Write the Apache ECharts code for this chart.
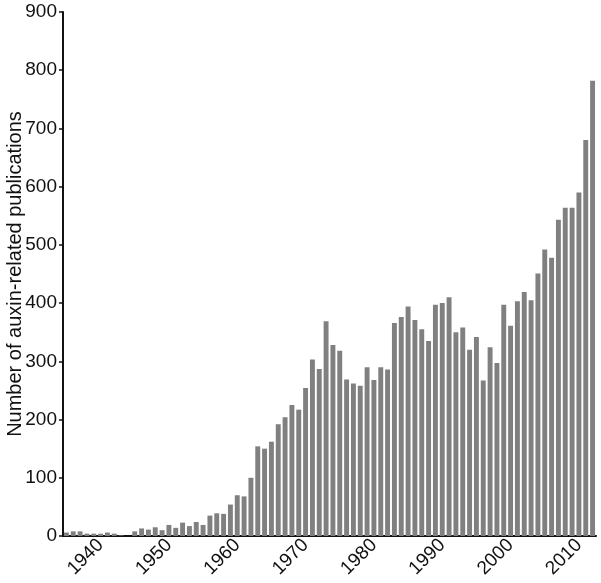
<!DOCTYPE html>
<html>
<head>
<meta charset="utf-8">
<script src="https://cdn.jsdelivr.net/npm/echarts@6/dist/echarts.min.js"></script>
<style>
  html, body { margin: 0; padding: 0; background: #fff; }
  #chart { width: 601px; height: 583px; }
</style>
</head>
<body>
<div id="chart"></div>
<script>
// years 1935 – 2012
const years = []
for (let y = 1935; y <= 2012; y++) years.push(String(y))

// publications per year
const publications = [
  6, 8, 8, 4, 4, 4, 6, 4, 1, 0,
  8, 13, 11, 15, 10, 19, 14, 23, 17, 24,
  19, 35, 39, 38, 54, 70, 68, 100, 154, 150,
  162, 192, 204, 225, 217, 254, 303, 287, 369, 328,
  318, 269, 262, 258, 290, 268, 290, 286, 366, 376,
  394, 371, 355, 335, 397, 400, 410, 350, 358, 320,
  342, 267, 324, 297, 397, 361, 403, 419, 405, 451,
  492, 478, 543, 564, 564, 590, 680, 782
]

const yTicks = { min: 0, max: 900, interval: 100 }
const yName = 'Number of auxin-related publications'

const font = 'Liberation Sans, Arial, sans-serif'
const chart = echarts.init(document.getElementById('chart'))

chart.setOption({
  animation: false,
  grid: { left: 63, right: 5, top: 12, bottom: 47, outerBoundsMode: 'none', containLabel: false },
  xAxis: {
    type: 'category',
    data: years,
    axisLine: { lineStyle: { color: '#111', width: 2 } },
    axisTick: {
      alignWithLabel: true,
      interval: 0,
      length: 5,
      lineStyle: { color: '#111', width: 1.5 }
    },
    axisLabel: {
      // only label the decades
      interval: (idx, val) => Number(val) % 10 === 0,
      rotate: 45,
      margin: 6,
      color: '#111',
      fontSize: 19,
      fontFamily: font
    }
  },
  yAxis: {
    type: 'value',
    min: yTicks.min,
    max: yTicks.max,
    interval: yTicks.interval,
    name: yName,
    nameLocation: 'middle',
    nameGap: 38,
    nameMoveOverlap: false,
    nameTextStyle: {
      color: '#111',
      fontSize: 20,
      fontFamily: font
    },
    axisLine: { show: true, lineStyle: { color: '#111', width: 2 } },
    axisTick: { show: true, length: 4, lineStyle: { color: '#111', width: 1.5 } },
    axisLabel: {
      margin: 6,
      color: '#111',
      fontSize: 19,
      fontFamily: font
    },
    splitLine: { show: false }
  },
  series: [{
    type: 'bar',
    data: publications,
    barCategoryGap: '28%',
    itemStyle: { color: '#808080' }
  }]
})
</script>
</body>
</html>
